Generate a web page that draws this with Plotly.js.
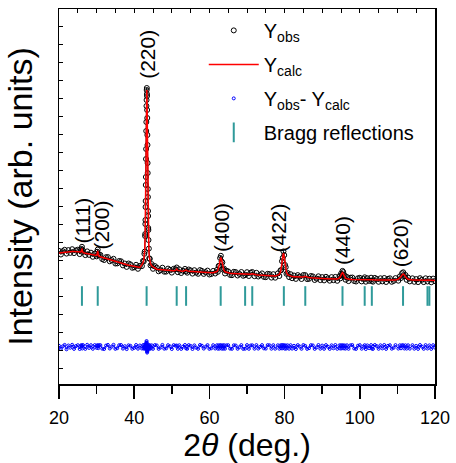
<!DOCTYPE html>
<html>
<head>
<meta charset="utf-8">
<script src="https://cdn.plot.ly/plotly-3.0.1.min.js"></script>
<style>html,body{margin:0;padding:0;background:#fff;}#chart{width:456px;height:463px;}</style>
</head>
<body>
<div id="chart"></div>
<script>
// 2theta grid (deg.)
const twoTheta = [
20,20.5,21,21.5,22,22.5,23,23.5,24,24.5,25,25.5,
25.85,26.0,26.1,26.2,26.4,
27,27.5,28,28.5,29,29.5,30,
30.15,30.3,30.45,30.6,
31,31.5,32,32.5,33,33.5,34,34.5,35,35.5,36,36.5,37,37.5,38,38.5,39,39.5,40,40.5,41,41.5,
42.05,42.35,42.55,42.7,42.8,
42.90,42.93,42.96,42.99,43.02,43.05,43.08,43.11,43.14,43.17,43.20,43.23,43.26,43.29,43.32,43.35,43.38,43.41,43.44,43.47,43.50,43.53,43.56,43.59,43.62,43.65,43.68,43.71,43.74,43.77,43.80,
43.9,44.0,44.15,44.35,44.65,
45,45.5,46,46.5,47,47.5,48,48.5,49,49.5,50,50.5,51,51.3,51.6,
52,52.5,53,53.5,53.8,54.1,54.5,55,55.5,56,56.5,57,57.5,58,58.5,59,59.5,60,60.5,61,61.55,
62,62.25,62.45,62.65,62.85,63.05,63.25,63.45,63.65,63.85,64.15,64.5,
65,65.5,66,66.5,67,67.5,68,68.5,69,69.5,70,70.5,71,71.4,72,72.5,73,73.5,74,74.5,75,75.5,76,76.5,77,77.5,
78.2,78.6,78.9,79.1,79.3,79.5,79.7,79.9,80.1,80.3,80.5,80.8,81.2,
81.6,82,82.5,83,83.5,84,84.5,85,85.5,86,86.5,87,87.5,88,88.5,89,89.5,90,90.5,91,91.5,92,92.5,93,93.5,94,
94.6,94.8,95.0,95.2,95.4,95.6,95.8,96.0,96.2,96.6,
97,97.5,98,98.5,99,99.5,100,100.5,101,101.3,101.6,102,102.5,103,103.2,103.5,104,104.5,105,105.5,106,106.5,107,107.5,108,108.5,109,109.5,
110.25,110.65,110.95,111.25,111.55,111.85,112.15,112.45,112.85,113.3,
114,114.5,115,115.5,116,116.5,117,117.5,118,118.5,119,119.5,120
];

// Observed intensity (arb. units)
const yObs = [
96.1,92.5,95.8,97.2,93.4,96.9,94.1,97.8,93.9,96.6,97.3,92.9,
96.8,98.1,100.2,95.1,96.3,
91.9,95.6,92.1,94.3,90.2,93.4,90.6,
95.2,97.4,91.8,92.6,
92.1,87.9,87.0,89.8,89.9,85.7,86.9,88.2,83.5,83.6,86.0,85.7,81.6,83.5,80.1,83.5,82.6,79.2,79.7,82.2,78.2,81.1,
80.9,86.1,85.6,93.2,95.4,
111,113,123,127,140,146,162,170,188,198,216,225,241,247,257,259,253,251,237,229,212,202,184,174,158,150,136,131,119,117,107,
98.4,88.7,88.1,81.6,82.9,
78.2,80.9,79.4,75.7,76.9,79.3,75.3,75.4,78.4,77.1,74.4,78.2,77.8,79.5,74.8,
77.7,74.0,76.2,78.1,75.6,74.3,77.5,76.6,73.4,76.8,74.4,73.2,76.9,76.1,73.1,74.8,76.4,72.5,73.0,76.1,73.5,
77.1,75.2,81.0,81.3,89.0,91.2,85.6,84.5,77.4,78.5,73.5,76.3,
75.6,72.1,71.8,75.2,74.9,71.5,73.1,75.0,71.2,71.9,74.8,71.0,74.3,75.0,70.8,74.2,70.5,72.0,73.6,70.1,69.8,73.2,72.9,69.4,72.8,69.3,
73.6,71.0,76.5,77.0,85.8,89.1,95.6,91.9,82.1,79.8,73.2,74.1,69.9,
72.8,68.8,71.5,68.1,71.9,70.4,68.0,72.0,71.9,67.9,68.2,71.0,70.6,67.0,68.4,70.7,66.9,69.9,66.6,70.2,68.6,66.3,69.9,66.8,70.1,66.2,
70.8,68.6,73.3,72.0,76.1,74.9,70.2,71.5,67.3,70.0,
65.9,69.3,69.5,66.0,65.5,68.7,69.2,65.6,68.1,69.7,65.3,68.8,66.1,69.3,66.1,65.3,69.1,68.0,65.2,68.7,65.6,69.0,65.0,68.1,68.7,65.2,66.1,68.9,
66.3,70.6,69.0,73.8,74.7,70.6,72.0,67.2,69.4,65.6,
68.7,65.2,67.9,64.9,68.8,67.2,64.9,68.7,65.5,68.3,64.7,68.4,65.9
];

// Calculated intensity (arb. units)
const yCalc = [
94,94.3,94.6,94.9,95.2,95.4,95.5,95.6,95.6,95.4,95.1,94.8,
95.0,97.0,98.5,96.5,94.4,
93.8,93.4,93.0,92.5,92.0,91.5,91.5,
93.5,96.0,93.0,90.8,
90.2,89.6,89.0,88.4,87.8,87.2,86.6,86.0,85.4,84.8,84.2,83.7,83.2,82.7,82.2,81.8,81.4,81.0,80.6,80.2,79.9,79.6,
82.4,84.3,87.2,91.1,97,
109,115,121,129,138,148,160,172,186,200,214,227,239,249,255,257,255,249,239,227,214,200,186,172,160,148,138,129,121,115,109,
96.6,90.5,86.4,83.3,81.2,
80.0,79.0,77.8,77.6,77.4,77.2,77.0,76.8,76.6,76.5,76.4,76.3,76.6,78.0,76.6,
76.0,75.9,75.8,76.1,77.0,76.1,75.6,75.5,75.4,75.2,75.1,75.0,74.9,74.8,74.7,74.6,74.5,74.4,74.3,74.3,75.0,
75.4,76.9,79.3,82.9,87.3,89.6,87.2,82.8,79.1,76.7,75.2,74.6,
73.8,73.7,73.6,73.5,73.4,73.3,73.2,73.1,73.1,73.6,72.9,72.8,72.8,73.3,72.5,72.3,72.1,71.9,71.7,71.5,71.4,71.3,71.2,71.1,71.0,71.0,
71.9,72.7,74.8,78.3,83.9,90.4,93.8,90.3,83.8,78.2,74.7,72.4,71.6,
71.0,70.4,70.3,70.1,70.0,69.9,69.8,70.0,70.8,69.8,69.4,69.2,69.0,68.9,68.8,68.7,68.6,68.5,68.4,68.3,68.3,68.2,68.2,68.1,68.1,68.0,
69.1,70.1,71.6,73.4,74.4,73.4,71.6,69.9,68.9,68.3,
67.7,67.6,67.5,67.5,67.4,67.4,67.3,67.3,67.5,67.9,67.3,67.2,67.2,67.4,67.7,67.2,67.1,67.1,67.0,67.0,67.0,67.0,66.9,66.9,66.9,66.9,66.9,67.0,
67.9,68.9,70.3,72.1,73.0,72.1,70.3,68.8,67.7,67.25,
66.9,66.9,66.8,66.8,66.8,66.8,66.7,66.8,67.0,66.7,66.6,66.6,66.5
];

// Difference curve Yobs - Ycalc (plotted about zero)
const yDiff = [
1.2,-1.8,0.6,2.1,-2.3,1.5,-0.7,2.2,-1.9,0.9,1.8,-2.0,
1.7,0.9,1.6,-1.5,1.9,
-1.9,2.2,-0.9,1.8,-1.8,1.9,-0.9,
1.7,1.4,-1.2,1.8,
1.9,-1.7,-2.0,1.4,2.1,-1.5,0.3,2.2,-1.9,-1.2,1.8,2.0,-1.6,0.8,-2.1,1.7,1.2,-1.8,-0.9,2.0,-1.7,1.5,
-1.5,1.8,-1.6,2.1,-1.6,
1.0,-1.2,1.5,-0.8,1.6,-1.4,1.2,2.0,-1.0,2.6,3.4,2.2,4.6,6.0,4.0,2.0,-1.8,-4.6,-5.6,-3.4,-4.2,-1.6,-2.4,0.9,-1.8,1.4,-0.8,1.2,-1.5,1.0,-1.1,
1.8,-1.8,1.7,-1.7,1.7,
-1.8,1.9,1.6,-1.9,-0.5,2.1,-1.7,-1.4,1.8,0.6,-2.0,1.9,1.2,1.5,-1.8,
1.7,-1.9,0.4,2.0,-1.4,-1.8,1.9,1.1,-2.0,1.6,-0.7,-1.8,2.0,1.3,-1.6,0.2,1.9,-1.9,-1.3,1.8,-1.5,
1.7,-1.7,1.7,-1.6,1.7,1.6,-1.6,1.7,-1.7,1.8,-1.7,1.7,
1.8,-1.6,-1.8,1.7,1.5,-1.8,-0.1,1.9,-1.9,-1.7,1.9,-1.8,1.5,1.7,-1.7,1.9,-1.6,0.1,1.9,-1.4,-1.6,1.9,1.7,-1.7,1.8,-1.7,
1.7,-1.7,1.7,-1.3,1.9,-1.3,1.8,1.6,-1.7,1.6,-1.5,1.7,-1.7,
1.8,-1.6,1.2,-2.0,1.9,0.5,-1.8,2.0,1.1,-1.9,-1.2,1.8,1.6,-1.9,-0.4,2.0,-1.7,1.4,-1.8,1.9,0.3,-1.9,1.7,-1.3,2.0,-1.8,
1.7,-1.5,1.7,-1.4,1.7,1.5,-1.4,1.6,-1.6,1.7,
-1.8,1.7,2.0,-1.5,-1.9,1.3,1.9,-1.7,0.6,1.8,-2.0,1.6,-1.1,1.9,-1.6,-1.9,2.0,0.9,-1.8,1.7,-1.4,2.0,-1.9,1.2,1.8,-1.7,-0.8,1.9,
-1.6,1.7,-1.3,1.7,1.7,-1.5,1.7,-1.6,1.7,-1.65,
1.8,-1.7,1.1,-1.9,2.0,0.4,-1.8,1.9,-1.5,1.6,-1.9,1.8,-0.6
];

// Bragg reflection positions (deg.)
const braggPos = [26.1,30.3,43.3,51.3,53.8,63.0,69.5,71.4,79.8,85.5,95.4,101.3,103.2,111.5,118.0,118.5];
const braggLevel = 51;

// hkl labels
const hklLabels = ['(111)','(200)','(220)','(400)','(422)','(440)','(620)'];
const hklX = [26.0,31.3,43.35,63.2,78.3,95.6,110.7];
const hklY = [126,122,293,119.5,118.7,106.2,103.7];

const FONT = 'Liberation Sans, Arial, Helvetica, sans-serif';

const traces = [
  {x: twoTheta, y: yObs, type: 'scatter', mode: 'lines', showlegend: false, legendgroup: 'a',
   line: {color: 'black', width: 1}, hoverinfo: 'skip'},
  {x: twoTheta, y: yObs, type: 'scatter', mode: 'markers', name: 'Y<sub>obs</sub>', legendgroup: 'a',
   marker: {symbol: 'circle-open', size: 5, color: 'black', line: {width: 1, color: 'black'}}},
  {x: twoTheta, y: yCalc, type: 'scatter', mode: 'lines', name: 'Y<sub>calc</sub>', legendgroup: 'b',
   line: {color: '#ff0000', width: 1.5}},
  {x: twoTheta, y: yDiff, type: 'scatter', mode: 'lines', showlegend: false, legendgroup: 'c',
   line: {color: '#0000ff', width: 1}, hoverinfo: 'skip'},
  {x: twoTheta, y: yDiff, type: 'scatter', mode: 'markers', name: 'Y<sub>obs</sub>- Y<sub>calc</sub>', legendgroup: 'c',
   marker: {symbol: 'circle-open', size: 3, color: '#0000ff', line: {width: 1, color: '#0000ff'}}},
  {x: braggPos, y: braggPos.map(() => braggLevel), type: 'scatter', mode: 'markers', name: 'Bragg reflections', legendgroup: 'd',
   marker: {symbol: 'line-ns', size: 14, color: '#2f9a9a', line: {width: 2, color: '#2f9a9a'}}},
  {x: [20, 120], y: [null, null], xaxis: 'x2', type: 'scatter', mode: 'markers', showlegend: false, hoverinfo: 'skip'}
];

const annotations = hklLabels.map((t, i) => ({
  x: hklX[i], y: hklY[i], xref: 'x', yref: 'y', text: t, textangle: -90,
  showarrow: false, xanchor: 'center', yanchor: 'middle',
  font: {family: FONT, size: 21, color: 'black'}
}));

const layout = {
  width: 456, height: 463,
  margin: {l: 59, r: 21, t: 9, b: 79, pad: 0},
  paper_bgcolor: 'white', plot_bgcolor: 'white',
  font: {family: FONT, color: 'black'},
  showlegend: true,
  legend: {x: 0.385, y: 0.995, xanchor: 'left', yanchor: 'top', bgcolor: 'rgba(0,0,0,0)',
           font: {family: FONT, size: 20, color: 'black'}, traceorder: 'grouped', tracegroupgap: 5, itemwidth: 50},
  xaxis: {range: [20, 120], tick0: 20, dtick: 20, ticks: 'outside', ticklen: 13, tickwidth: 1.5, tickcolor: 'black',
          showline: true, linecolor: 'black', linewidth: 1.5, mirror: true, showgrid: false, zeroline: false,
          tickfont: {family: FONT, size: 18}, ticklabelstandoff: 4,
          minor: {dtick: 10, ticks: 'outside', ticklen: 8, tickwidth: 1.5, tickcolor: 'black', showgrid: false},
          title: {text: '2<i>θ</i> (deg.)', font: {family: FONT, size: 32}, standoff: 11}},
  xaxis2: {overlaying: 'x', anchor: 'y', side: 'top', range: [20, 120], tick0: 20, dtick: 5, ticks: 'inside', ticklen: 4,
           tickwidth: 1, tickcolor: 'black', showticklabels: false, showgrid: false, zeroline: false, showline: false},
  yaxis: {range: [-37, 338], showticklabels: false, ticks: 'inside', tick0: -3.7, dtick: 18, ticklen: 4, tickwidth: 1,
          tickcolor: 'black', showline: true, linecolor: 'black', linewidth: 1.5, mirror: true, showgrid: false, zeroline: false,
          title: {text: 'Intensity (arb. units)', font: {family: FONT, size: 34}, standoff: 14}},
  annotations: annotations
};

Plotly.newPlot('chart', traces, layout, {staticPlot: true, displayModeBar: false});
</script>
</body>
</html>
